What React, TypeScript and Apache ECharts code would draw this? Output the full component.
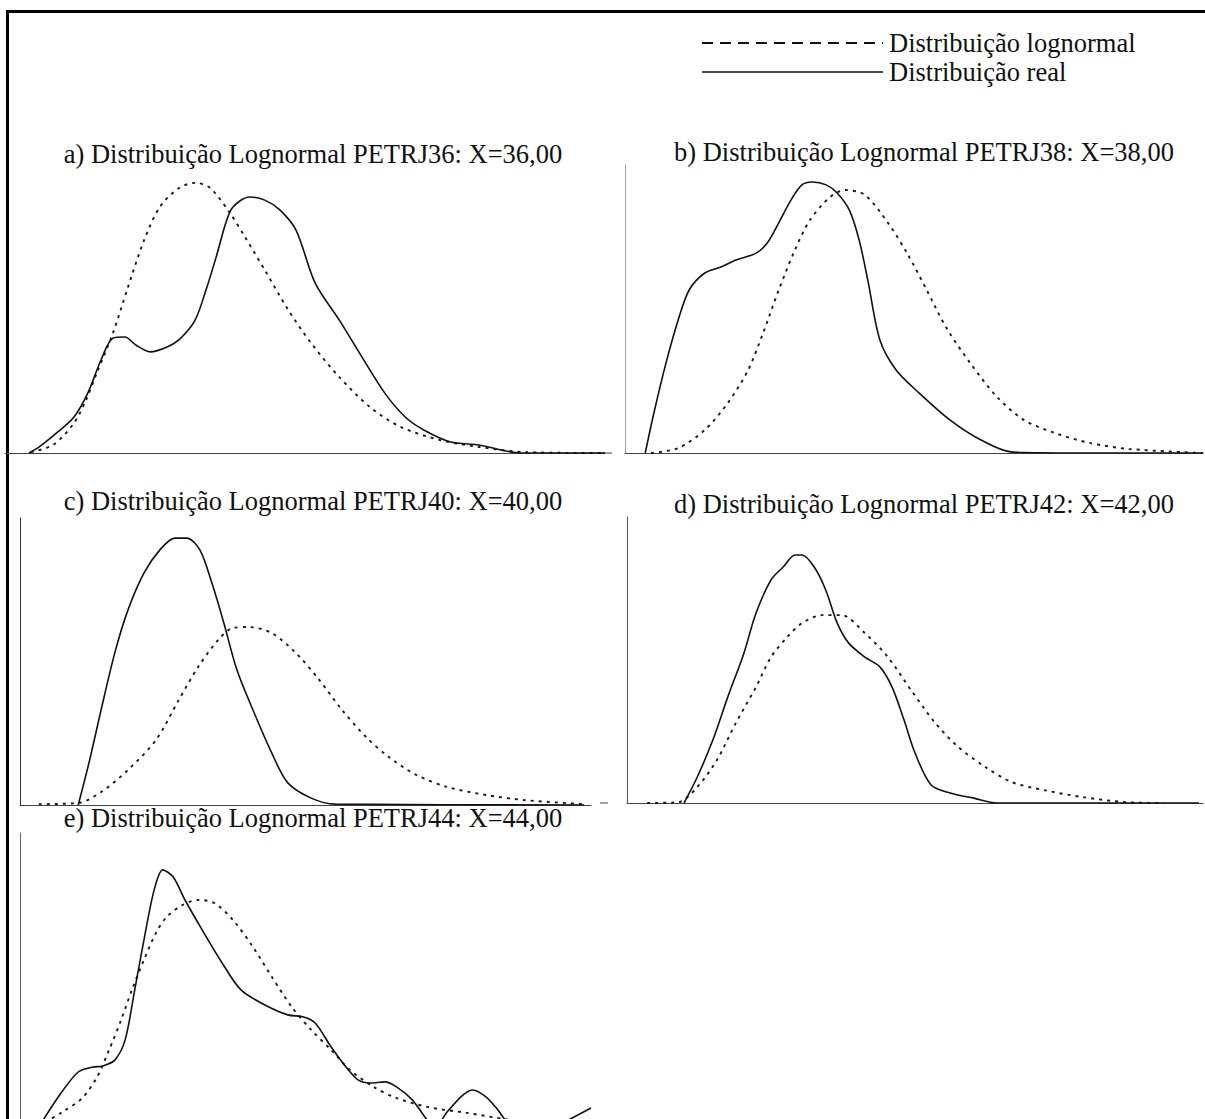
import React, { useEffect, useRef } from "react";
import * as echarts from "echarts";

// ---------- data (x: 0..100 across each panel, y: density scaled 0..100) ----------
const titleA = "a) Distribuição Lognormal PETRJ36: X=36,00";
const titleB = "b) Distribuição Lognormal PETRJ38: X=38,00";
const titleC = "c) Distribuição Lognormal PETRJ40: X=40,00";
const titleD = "d) Distribuição Lognormal PETRJ42: X=42,00";
const titleE = "e) Distribuição Lognormal PETRJ44: X=44,00";
const legendLognormal = "Distribuição lognormal";
const legendReal = "Distribuição real";

const realA: [number, number][] = [
  [4, 0], [5.7, 2.1], [8.8, 7.3], [11.5, 12.5], [13.8, 20.8], [16, 32.3], [18, 39.9],
  [20, 40.3], [21.8, 37.5], [24.2, 35.1], [27, 36.8], [29.3, 39.9], [31.7, 46.2],
  [33.5, 56.6], [35.2, 68.1], [36.8, 79.9], [38, 85.4], [40.7, 88.9], [43.3, 87.8],
  [45.8, 84.4], [48.5, 77.4], [51.7, 59], [55.7, 46.2], [59.5, 33.3], [63.3, 20.8],
  [66.7, 12.5], [69.8, 8], [74.3, 3.8], [79, 2.8], [82.8, 1], [86, 0], [100, 0],
];
const lognA: [number, number][] = [
  [4.3, 0.3], [8, 2.8], [11.5, 10.4], [13.5, 18.4], [15.3, 27.8], [18, 41.7], [20.5, 57.6],
  [23.2, 74], [25.8, 85.4], [29, 92], [31.7, 93.8], [34.2, 92], [37.5, 83.3], [40, 75],
  [43.3, 63.5], [47.2, 49.7], [51, 38.2], [55.7, 26.4], [60.8, 16], [66, 9], [72.5, 4.5],
  [79, 2.1], [86.7, 0.3], [100, 0],
];

const realB: [number, number][] = [
  [3.5, 0], [5, 13.9], [7.1, 31.3], [9.2, 46.2], [11.1, 56.6], [13.8, 62.5], [16.6, 64.6],
  [19.2, 67], [22.7, 69.4], [24.6, 72.9], [26.6, 79.9], [28.7, 87.8], [30.6, 93.1],
  [32.4, 94.1], [34.8, 93.1], [36.7, 90.3], [38.8, 84.4], [40.5, 74], [42, 60.1],
  [44.1, 39.2], [46.9, 28.8], [50.9, 20.8], [56.2, 11.5], [61.6, 4.5], [67, 0.3],
  [79.1, 0], [100, 0],
];
const lognB: [number, number][] = [
  [4.5, 0], [9.2, 1.7], [13.8, 8], [17.8, 17.4], [21.3, 28.8], [23.9, 41.7], [26.6, 56.6],
  [29.4, 70.5], [32, 80.9], [35.5, 88.9], [38.1, 91.3], [41.5, 89.6], [45.5, 79.9],
  [48.8, 69.4], [52.2, 56.6], [55.5, 43.8], [59.7, 31.3], [64.4, 19.4], [69, 11.5],
  [74.4, 6.9], [80.4, 3.5], [87.2, 1.4], [100, 0],
];

const realC: [number, number][] = [
  [10.2, 0], [12.2, 15.7], [14.2, 33.1], [16.6, 53], [18.9, 67.9], [21.7, 80.8],
  [24.5, 88.9], [27.1, 93], [29.2, 93], [31.5, 88.9], [33.6, 77.4], [35.7, 63.4],
  [38, 47], [40.8, 33.1], [44.1, 18.1], [46.9, 7.7], [51, 2.4], [55.2, 0.3], [98.8, 0],
];
const lognC: [number, number][] = [
  [3.3, 0.3], [10.2, 0.7], [14.2, 4.5], [18.9, 12.2], [23.8, 22.6], [27.8, 36.6],
  [31.2, 48.1], [34.7, 57.5], [37.3, 61.7], [40.1, 62], [44.1, 59.9], [48.3, 53],
  [52.4, 43.6], [56.4, 33.1], [60.6, 23.7], [64.6, 16.7], [69.4, 10.5], [74.8, 6.3],
  [81.6, 3.5], [88.4, 1.7], [98.8, 0.3],
];

const realD: [number, number][] = [
  [9.9, 0], [12.2, 9.1], [14.9, 22], [17.5, 37.1], [20.3, 52.4], [22.4, 66.4], [25, 78],
  [27.1, 82.5], [29.2, 86.7], [30.4, 86.7], [32.5, 82.5], [34.5, 74.5], [36.5, 62.9],
  [38.5, 55.9], [41.3, 51], [43.9, 47.6], [46, 40.6], [48.1, 29], [50, 17.5], [52.8, 6.3],
  [56.1, 3.5], [60.2, 1.7], [64.2, 0], [99.3, 0],
];
const lognD: [number, number][] = [
  [3.5, 0], [8.9, 0.3], [12.2, 5.6], [15.6, 15], [18.9, 28], [22.4, 40.6], [25, 51],
  [27.8, 58], [30.4, 62.9], [33.9, 65.7], [37.2, 65.7], [41.3, 59.4], [45.3, 51],
  [49.3, 39.5], [53.5, 28], [57.5, 19.6], [62.2, 12.6], [66.8, 7.3], [72.4, 4.5],
  [79, 2.1], [86.5, 0.3], [93.2, 0],
];

const realE: [number, number][] = [
  [3.2, 0], [6.7, 10.7], [10.2, 19.3], [12.8, 21], [14.5, 21.4], [16.6, 23.4], [18.4, 30.3],
  [20, 46.6], [21.7, 64.8], [23.5, 82.1], [25, 89], [26.8, 86.6], [28.9, 78.6], [31.9, 68.3],
  [35.4, 56.9], [38.7, 47.6], [42.9, 42.4], [46.9, 39], [49.7, 38.3], [51.7, 36.2],
  [54.5, 27.9], [57.1, 21], [59.2, 16.6], [61.3, 15.5], [63.9, 15.9], [66, 14.1],
  [68.7, 9.7], [71.2, 3], [72.6, 0], [74.8, 5.5], [77.6, 11.4], [79.3, 13.1],
  [81.6, 10.7], [83.7, 6.2], [85.6, 1.5], [88, 0], [93.5, 0], [95.8, 2.5], [100, 6.9],
];
const lognE: [number, number][] = [
  [3.2, 0.5], [7.4, 5.5], [10.9, 10.3], [13.5, 17.6], [15.6, 26.9], [17.7, 37.2], [19.6, 47.6],
  [21.7, 57.9], [23.8, 67.2], [25.7, 72.8], [28.5, 76.9], [31.2, 78.6], [34, 77.6],
  [37.3, 71.7], [40.8, 62.4], [44.1, 52.1], [47.6, 41.7], [51, 33.8], [54.5, 26.9],
  [57.8, 20], [62, 14.1], [66, 10.3], [71.5, 7.2], [78.3, 5.2], [85.1, 3], [91, 1.2], [100, 0.3],
];

// ---------- layout ----------
const FONT = '"Liberation Serif", "Times New Roman", serif';
const TITLE_FONT = `26.5px ${FONT}`;
const CHART_W = 1205;
const CHART_H = 1145; // taller than the viewport: panel e is cut off at the bottom edge

const panels = [
  { title: titleA, real: realA, logn: lognA, grid: { left: 5, top: 165, width: 600, height: 288 }, yMax: 100, yLine: false, yColor: "#555", tx: 313, ty: 154 },
  { title: titleB, real: realB, logn: lognB, grid: { left: 625, top: 165, width: 578, height: 288 }, yMax: 100, yLine: true, yColor: "#a0a0a0", tx: 924, ty: 152 },
  { title: titleC, real: realC, logn: lognC, grid: { left: 20, top: 518, width: 571, height: 287 }, yMax: 100, yLine: true, yColor: "#333", tx: 313, ty: 501 },
  { title: titleD, real: realD, logn: lognD, grid: { left: 627, top: 517, width: 576, height: 286 }, yMax: 100, yLine: true, yColor: "#555", tx: 924, ty: 504 },
  { title: titleE, real: realE, logn: lognE, grid: { left: 20, top: 833, width: 571, height: 295 }, yMax: 101.7, yLine: true, yColor: "#666", tx: 313, ty: 818 },
];

function textEl(text: string, x: number, y: number, align: string) {
  return {
    type: "text",
    silent: true,
    style: {
      text, x, y, font: TITLE_FONT, fill: "#111",
      align, textAlign: align, verticalAlign: "middle", textVerticalAlign: "middle",
    },
  };
}

function buildOption() {
  const grid = panels.map((p) => ({ ...p.grid, containLabel: false }));
  const xAxis = panels.map((p, i) => ({
    gridIndex: i, type: "value", min: 0, max: 100,
    axisLine: { show: true, onZero: false, lineStyle: { color: "#444", width: 1 } },
    axisTick: { show: false }, axisLabel: { show: false }, splitLine: { show: false },
  }));
  const yAxis = panels.map((p, i) => ({
    gridIndex: i, type: "value", min: 0, max: p.yMax,
    axisLine: { show: p.yLine, onZero: false, lineStyle: { color: p.yColor, width: 1 } },
    axisTick: { show: false }, axisLabel: { show: false }, splitLine: { show: false },
  }));
  const series: any[] = [];
  panels.forEach((p, i) => {
    series.push({
      type: "line", xAxisIndex: i, yAxisIndex: i, data: p.logn, name: legendLognormal,
      showSymbol: false, symbol: "none", smooth: 0.3, silent: true,
      lineStyle: { color: "#1a1a1a", width: 1.9, type: [3, 5] },
    });
    series.push({
      type: "line", xAxisIndex: i, yAxisIndex: i, data: p.real, name: legendReal,
      showSymbol: false, symbol: "none", smooth: 0.3, silent: true,
      lineStyle: { color: "#111", width: 1.6 },
    });
  });

  const graphic: any[] = [
    // frame
    { type: "line", silent: true, shape: { x1: 6, y1: 11.5, x2: 1205, y2: 11.5 }, style: { stroke: "#000", lineWidth: 3 } },
    { type: "line", silent: true, shape: { x1: 7.5, y1: 10, x2: 7.5, y2: CHART_H }, style: { stroke: "#000", lineWidth: 3 } },
    // small axis stubs left of right-column panels
    { type: "line", silent: true, shape: { x1: 600, y1: 453, x2: 612, y2: 453 }, style: { stroke: "#444", lineWidth: 1 } },
    { type: "line", silent: true, shape: { x1: 600, y1: 803, x2: 608, y2: 803 }, style: { stroke: "#444", lineWidth: 1 } },
    // legend
    { type: "line", silent: true, shape: { x1: 702, y1: 43, x2: 883, y2: 43 }, style: { stroke: "#111", lineWidth: 2, lineDash: [11, 7] } },
    { type: "line", silent: true, shape: { x1: 702, y1: 72, x2: 883, y2: 72 }, style: { stroke: "#111", lineWidth: 1.6 } },
    textEl(legendLognormal, 889, 43, "left"),
    textEl(legendReal, 889, 72, "left"),
  ];
  panels.forEach((p) => graphic.push(textEl(p.title, p.tx, p.ty, "center")));

  return {
    animation: false,
    backgroundColor: "#ffffff",
    grid, xAxis, yAxis, series, graphic,
  };
}

export default function App() {
  const ref = useRef<HTMLDivElement>(null);
  useEffect(() => {
    document.body.style.margin = "0";
    document.body.style.overflow = "hidden";
    document.documentElement.style.overflow = "hidden";
    if (!ref.current) return;
    const chart = echarts.init(ref.current, null, { renderer: "svg" });
    chart.setOption(buildOption() as any);
    return () => chart.dispose();
  }, []);
  return <div ref={ref} style={{ width: CHART_W, height: CHART_H, background: "#fff" }} />;
}
